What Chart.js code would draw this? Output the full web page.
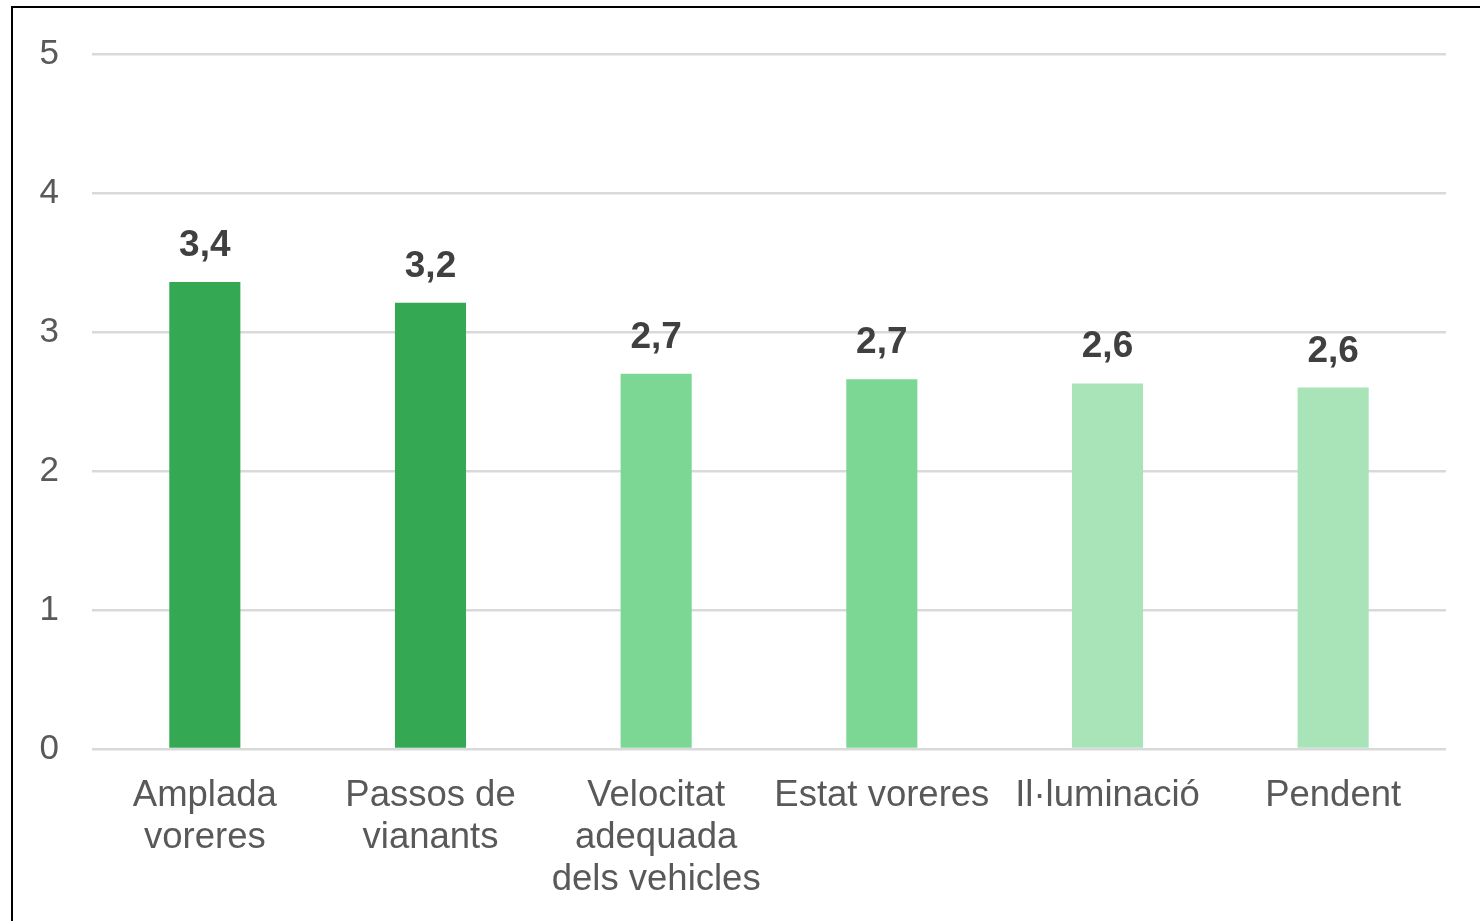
<!DOCTYPE html>
<html>
<head>
<meta charset="utf-8">
<script src="https://cdn.jsdelivr.net/npm/chart.js@4/dist/chart.umd.min.js"></script>
<style>
  html, body { margin: 0; padding: 0; background: #fff; overflow: hidden; }
  #frame { position: absolute; left: 11px; top: 6px; width: 3000px; height: 3000px; border: 2px solid #000; box-sizing: border-box; }
  #wrap { position: absolute; left: 0; top: 0; width: 1480px; height: 921px; }
</style>
</head>
<body>
<div id="frame"></div>
<div id="wrap"><canvas id="c" width="1480" height="921"></canvas></div>
<script>
const categories = [["Amplada", "voreres"], ["Passos de", "vianants"], ["Velocitat", "adequada", "dels vehicles"], "Estat voreres", "Il·luminació", "Pendent"];
const values = [3.36, 3.21, 2.70, 2.66, 2.63, 2.60];
const barColors = ["#34A853", "#34A853", "#7DD794", "#7DD794", "#A8E4B8", "#A8E4B8"];
const yTicks = [0, 1, 2, 3, 4, 5];

const FONT = "'Liberation Sans', Arial, sans-serif";

const valueLabels = {
  id: 'valueLabels',
  afterDatasetsDraw(chart) {
    const ctx = chart.ctx;
    const meta = chart.getDatasetMeta(0);
    ctx.save();
    ctx.font = "bold 37px " + FONT;
    ctx.fillStyle = "#404040";
    ctx.textAlign = "center";
    ctx.textBaseline = "alphabetic";
    meta.data.forEach((bar, i) => {
      const txt = values[i].toFixed(1).replace('.', ',');
      ctx.fillText(txt, bar.x, bar.y - 26);
    });
    ctx.restore();
  }
};

new Chart(document.getElementById('c'), {
  type: 'bar',
  data: {
    labels: categories,
    datasets: [{
      data: values,
      backgroundColor: barColors,
      borderWidth: 0,
      barPercentage: 0.63,
      categoryPercentage: 0.5
    }]
  },
  options: {
    responsive: false,
    animation: false,
    devicePixelRatio: 1,
    layout: { padding: { left: 0, right: 34, top: 54, bottom: 0 } },
    plugins: { legend: { display: false }, tooltip: { enabled: false } },
    scales: {
      x: {
        grid: { display: false, drawTicks: false },
        border: { display: false },
        ticks: {
          color: "#595959",
          font: { family: FONT, size: 36.5, lineHeight: 1.15 },
          padding: 26,
          maxRotation: 0,
          autoSkip: false
        },
        afterFit(scale) { scale.height = 921 - 749; }
      },
      y: {
        min: 0,
        max: 5,
        afterBuildTicks(scale) { scale.ticks = yTicks.map(v => ({ value: v })); },
        grid: { color: "#D9D9D9", lineWidth: 2.5, drawTicks: false },
        border: { display: false },
        ticks: {
          color: "#595959",
          font: { family: FONT, size: 35 },
          padding: 33
        },
        afterFit(scale) { scale.width = 92; }
      }
    }
  },
  plugins: [valueLabels]
});
</script>
</body>
</html>
